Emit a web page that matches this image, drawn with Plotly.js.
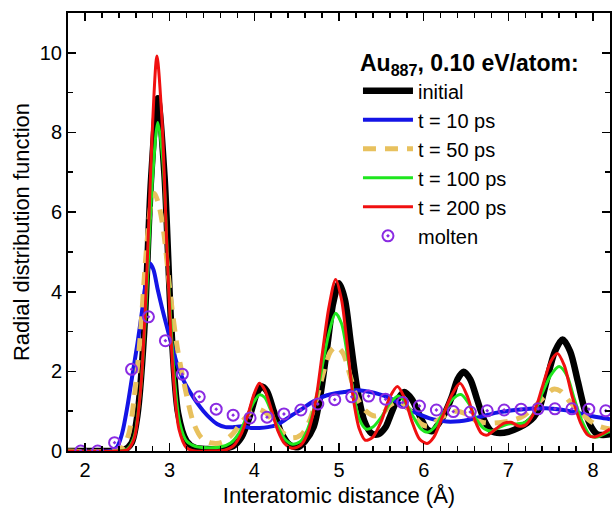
<!DOCTYPE html>
<html>
<head>
<meta charset="utf-8">
<script src="https://cdn.plot.ly/plotly-3.0.1.min.js"></script>
<style>html,body{margin:0;padding:0;background:#fff;}</style>
</head>
<body>
<div id="chart" style="width:612px;height:513px;"></div>
<script>
// ---- Data ----
const seriesNames = ["initial", "t = 10 ps", "t = 50 ps", "t = 100 ps", "t = 200 ps", "molten"];

const initialX = [1.8,2.3,2.45,2.55,2.62,2.7,2.78,2.86,2.94,3.02,3.1,3.2,3.3,3.45,3.6,3.75,3.85,3.95,4.03,4.09,4.15,4.23,4.32,4.42,4.52,4.6,4.7,4.78,4.86,4.93,5.0,5.07,5.14,5.22,5.3,5.38,5.46,5.55,5.6,5.68,5.77,5.86,5.95,6.04,6.1,6.18,6.25,6.33,6.4,6.47,6.55,6.63,6.72,6.8,6.9,7.0,7.12,7.22,7.3,7.37,7.45,7.55,7.64,7.73,7.82,7.9,7.98,8.05,8.12,8.2];
const initialY = [0,0,0.01,0.2,0.9,3.0,6.8,8.86,6.9,3.1,0.95,0.25,0.08,0.05,0.05,0.12,0.35,0.9,1.45,1.62,1.5,1.0,0.45,0.15,0.1,0.25,0.6,1.4,2.6,3.7,4.21,3.8,2.7,1.5,0.75,0.45,0.42,0.6,0.85,1.25,1.48,1.3,0.9,0.55,0.5,0.7,0.95,1.35,1.8,1.99,1.8,1.3,0.75,0.5,0.45,0.48,0.58,0.7,0.85,1.1,1.75,2.5,2.8,2.5,1.75,1.05,0.6,0.42,0.4,0.42];

const t10X = [1.8,2.3,2.38,2.44,2.5,2.56,2.62,2.68,2.73,2.77,2.81,2.86,2.91,2.97,3.03,3.1,3.17,3.25,3.32,3.4,3.48,3.56,3.66,3.76,3.86,3.96,4.06,4.16,4.26,4.36,4.46,4.56,4.66,4.76,4.86,4.96,5.06,5.16,5.26,5.37,5.47,5.57,5.67,5.77,5.87,5.97,6.07,6.17,6.27,6.37,6.47,6.57,6.67,6.78,6.88,6.98,7.08,7.18,7.28,7.38,7.48,7.58,7.68,7.78,7.88,7.98,8.08,8.2];
const t10Y = [0,0,0.1,0.45,1.1,1.9,2.7,3.6,4.4,4.71,4.55,4.05,3.6,3.1,2.62,2.1,1.75,1.45,1.22,1.0,0.82,0.68,0.6,0.6,0.62,0.58,0.58,0.6,0.65,0.78,0.92,1.05,1.2,1.32,1.4,1.45,1.48,1.52,1.52,1.48,1.43,1.36,1.25,1.12,1.0,0.9,0.82,0.77,0.74,0.74,0.76,0.8,0.86,0.92,0.97,1.0,1.03,1.05,1.07,1.07,1.07,1.05,1.02,0.98,0.93,0.88,0.84,0.8];

const t50X = [1.8,2.35,2.45,2.52,2.58,2.65,2.72,2.78,2.82,2.87,2.93,3.01,3.09,3.19,3.28,3.38,3.5,3.62,3.74,3.86,3.96,4.05,4.14,4.24,4.34,4.45,4.56,4.65,4.74,4.82,4.9,4.97,5.05,5.13,5.22,5.32,5.42,5.52,5.6,5.7,5.78,5.88,5.97,6.05,6.15,6.27,6.38,6.48,6.58,6.7,6.82,6.95,7.07,7.18,7.3,7.42,7.53,7.62,7.72,7.84,7.95,8.07,8.2];
const t50Y = [0,0,0.1,0.45,1.3,2.8,4.9,6.2,6.47,6.2,5.5,3.9,2.6,1.5,0.72,0.32,0.2,0.22,0.42,0.75,0.98,1.05,0.95,0.7,0.45,0.33,0.42,0.75,1.35,2.0,2.5,2.62,2.45,1.9,1.3,1.0,0.88,0.95,1.15,1.25,1.15,0.9,0.68,0.62,0.75,0.92,1.0,0.95,0.8,0.72,0.7,0.73,0.78,0.88,1.1,1.35,1.55,1.5,1.25,1.0,0.78,0.62,0.55];

const t100X = [1.8,2.4,2.5,2.58,2.66,2.73,2.8,2.86,2.92,2.98,3.05,3.12,3.2,3.3,3.45,3.6,3.72,3.82,3.92,4.0,4.06,4.12,4.2,4.28,4.36,4.45,4.55,4.63,4.72,4.8,4.88,4.96,5.03,5.1,5.17,5.24,5.32,5.4,5.5,5.6,5.7,5.79,5.88,5.97,6.05,6.13,6.23,6.34,6.44,6.53,6.62,6.72,6.8,6.9,7.0,7.1,7.2,7.3,7.4,7.5,7.6,7.69,7.78,7.88,7.97,8.05,8.12,8.2];
const t100Y = [0,0,0.05,0.35,1.6,4.0,6.9,8.25,7.3,4.6,2.0,0.7,0.25,0.12,0.08,0.1,0.2,0.45,0.9,1.25,1.41,1.35,1.0,0.6,0.3,0.17,0.25,0.55,1.2,2.1,2.95,3.46,3.2,2.4,1.45,0.8,0.55,0.6,0.85,1.2,1.38,1.2,0.85,0.55,0.47,0.6,0.95,1.3,1.42,1.2,0.8,0.55,0.5,0.6,0.68,0.68,0.72,0.95,1.45,1.9,2.12,1.9,1.3,0.7,0.38,0.35,0.42,0.5];

const t200X = [1.8,2.4,2.5,2.58,2.66,2.73,2.79,2.85,2.91,2.97,3.04,3.11,3.2,3.3,3.5,3.65,3.75,3.85,3.93,4.0,4.06,4.12,4.2,4.28,4.36,4.45,4.55,4.63,4.72,4.8,4.88,4.96,5.03,5.1,5.17,5.24,5.31,5.4,5.5,5.6,5.69,5.77,5.86,5.95,6.04,6.12,6.22,6.33,6.43,6.52,6.6,6.68,6.75,6.85,6.95,7.03,7.12,7.2,7.3,7.4,7.5,7.58,7.66,7.75,7.85,7.94,8.02,8.1,8.2];
const t200Y = [0,0,0.03,0.3,1.6,4.4,7.8,9.92,8.3,5.0,2.0,0.55,0.08,0,0,0.02,0.12,0.45,0.95,1.45,1.7,1.55,1.05,0.5,0.18,0.07,0.15,0.45,1.2,2.4,3.6,4.31,3.8,2.6,1.3,0.55,0.27,0.35,0.75,1.35,1.62,1.35,0.75,0.3,0.19,0.35,0.85,1.4,1.7,1.35,0.8,0.45,0.4,0.55,0.7,0.72,0.63,0.65,0.95,1.6,2.25,2.45,2.15,1.4,0.72,0.4,0.35,0.42,0.55];

const moltenX = [1.95,2.15,2.35,2.55,2.75,2.95,3.15,3.35,3.55,3.75,3.95,4.15,4.35,4.55,4.75,4.95,5.15,5.35,5.55,5.75,5.95,6.15,6.35,6.55,6.75,6.95,7.15,7.35,7.55,7.75,7.95,8.15];
const moltenY = [0.0,0.0,0.21,2.05,3.37,2.77,1.93,1.36,1.05,0.9,0.83,0.85,0.93,1.03,1.18,1.29,1.36,1.38,1.3,1.22,1.13,1.03,0.99,0.98,1.01,1.03,1.05,1.06,1.06,1.06,1.05,1.01];

const xTicks = [2,3,4,5,6,7,8];
const yTicks = [0,2,4,6,8,10];

// ---- Traces ----
const traces = [
  {x: initialX, y: initialY, name: seriesNames[0], mode: "lines",
   line: {color: "#000000", width: 6.5, shape: "spline", smoothing: 0.8}},
  {x: t10X, y: t10Y, name: seriesNames[1], mode: "lines",
   line: {color: "#1414e6", width: 4, shape: "spline", smoothing: 0.8}},
  {x: t50X, y: t50Y, name: seriesNames[2], mode: "lines",
   line: {color: "#e8c15e", width: 5, dash: "13px,9px", shape: "spline", smoothing: 0.8}},
  {x: t100X, y: t100Y, name: seriesNames[3], mode: "lines",
   line: {color: "#1ee61e", width: 3, shape: "spline", smoothing: 0.8}},
  {x: t200X, y: t200Y, name: seriesNames[4], mode: "lines",
   line: {color: "#f01010", width: 3, shape: "spline", smoothing: 0.8}},
  {x: moltenX, y: moltenY, name: seriesNames[5], mode: "markers",
   marker: {symbol: "circle-open-dot", size: 11, color: "#8a2be2", line: {color: "#8a2be2", width: 2}}}
];

const font = "Liberation Sans, Arial, sans-serif";

const layout = {
  width: 612, height: 513,
  margin: {l: 68, r: 2, t: 13, b: 62},
  paper_bgcolor: "#ffffff", plot_bgcolor: "#ffffff",
  font: {family: font, size: 20, color: "#000"},
  showlegend: true,
  legend: {
    x: 0.535, y: 0.935, xanchor: "left", yanchor: "top",
    bgcolor: "rgba(0,0,0,0)", borderwidth: 0,
    font: {family: font, size: 20, color: "#000"},
    itemwidth: 50,
    tracegroupgap: 0,
    title: {text: "<b>Au<sub>887</sub>, 0.10 eV/atom:</b>", font: {family: font, size: 23, color: "#000"}}
  },
  xaxis: {
    range: [1.8, 8.2], tickvals: xTicks, ticktext: xTicks.map(String),
    ticks: "inside", ticklen: 8, tickwidth: 1.6, tickcolor: "#000",
    minor: {dtick: 0.2, tick0: 2, ticks: "inside", ticklen: 5, tickwidth: 1.6, tickcolor: "#000"},
    showline: true, linewidth: 2, linecolor: "#000", mirror: "ticks",
    showgrid: false, zeroline: false,
    tickfont: {family: font, size: 20},
    title: {text: "Interatomic distance (Å)", font: {family: font, size: 22}, standoff: 8}
  },
  yaxis: {
    range: [0, 11], tickvals: yTicks, ticktext: yTicks.map(String),
    ticks: "inside", ticklen: 8, tickwidth: 1.6, tickcolor: "#000",
    minor: {dtick: 1, tick0: 0, ticks: "inside", ticklen: 5, tickwidth: 1.6, tickcolor: "#000"},
    showline: true, linewidth: 2, linecolor: "#000", mirror: "ticks",
    showgrid: false, zeroline: false,
    tickfont: {family: font, size: 20},
    title: {text: "Radial distribution function", font: {family: font, size: 22}, standoff: 4}
  }
};

Plotly.newPlot("chart", traces, layout, {staticPlot: true, displayModeBar: false});
</script>
</body>
</html>
